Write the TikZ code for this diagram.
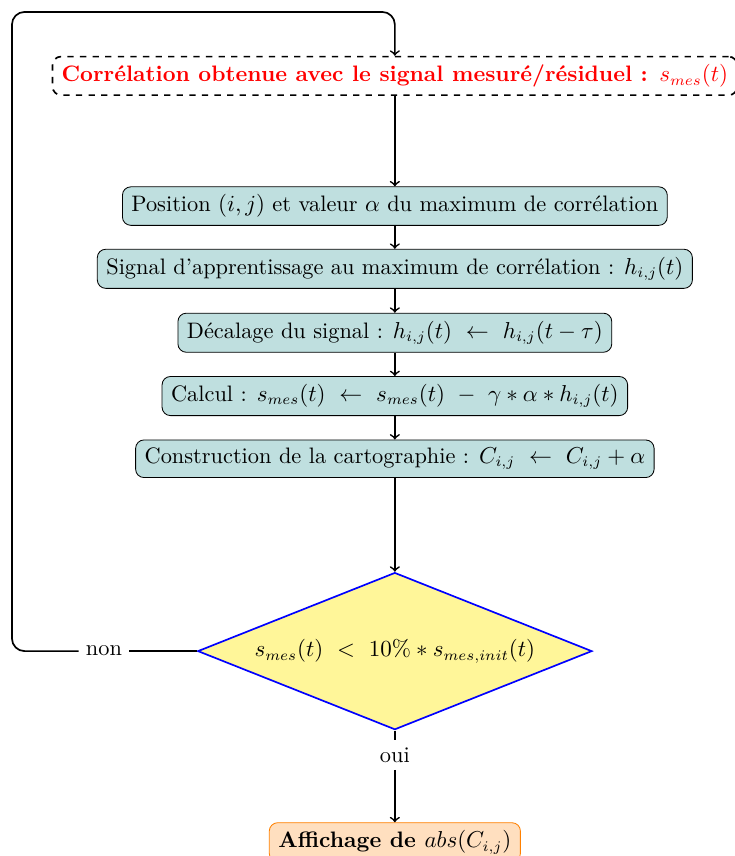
\documentclass[tikz,border=0pt]{standalone}
\usepackage{amsmath}
\usetikzlibrary{shapes.geometric}

\definecolor{fondetape}{RGB}{191,223,223}
\definecolor{fondtest}{RGB}{255,246,153}
\definecolor{fondsortie}{RGB}{255,223,191}

\tikzset{
  every node/.style={font=\fontsize{10.65pt}{12.8pt}\selectfont},
  etape/.style={draw, rectangle, rounded corners=4pt, fill=fondetape, inner xsep=4.3pt, inner ysep=3.7pt},
  entree/.style={draw, rectangle, rounded corners=4pt, dashed, thick, text=red, inner xsep=4.3pt, inner ysep=3.7pt, font=\fontsize{10.65pt}{12.8pt}\selectfont\bfseries},
  test/.style={draw=blue, thick, diamond, fill=fondtest, shape aspect=2.5, minimum width=6.6cm, minimum height=2.63cm, inner sep=0pt},
  sortie/.style={draw=orange, rectangle, rounded corners=4pt, fill=fondsortie, inner xsep=4.3pt, inner ysep=3.7pt, font=\fontsize{10.65pt}{12.8pt}\selectfont\bfseries},
  fleche/.style={->, thick}
}

\begin{document}
\begin{tikzpicture}[scale=1]
\useasboundingbox (0,0) rectangle (12.30,-14.33);

\node[entree] (correl) at (6.61,-1.27) {Corrélation obtenue avec le signal mesuré/résiduel : $s_{mes}(t)$};

\node[etape] (pos) at (6.61,-3.45) {Position $(i,j)$ et valeur $\alpha$ du maximum de corrélation};
\node[etape] (sig) at (6.61,-4.50) {Signal d'apprentissage au maximum de corrélation : $h_{i,j}(t)$};
\node[etape] (decal) at (6.61,-5.57) {Décalage du signal : $h_{i,j}(t) \ \leftarrow\ h_{i,j}(t-\tau)$};
\node[etape] (calcul) at (6.61,-6.63) {Calcul : $s_{mes}(t) \ \leftarrow\ s_{mes}(t) \ -\ \gamma*\alpha*h_{i,j}(t)$};
\node[etape] (carto) at (6.61,-7.68) {Construction de la cartographie : $C_{i,j} \ \leftarrow\ C_{i,j}+\alpha$};

\node[test] (crit) at (6.61,-10.90) {$s_{mes}(t) \ <\ 10\% * s_{mes,init}(t)$};

\node (non) at (1.74,-10.90) {non};
\node (oui) at (6.61,-12.64) {oui};

\node[sortie] (affich) at (6.61,-14.10) {Affichage de $abs(C_{i,j})$};

\coordinate (bas) at (0.20,-10.90);
\coordinate (haut) at (0.20,-0.20);

\draw[fleche] (correl) -- (pos);
\draw[fleche] (pos) -- (sig);
\draw[fleche] (sig) -- (decal);
\draw[fleche] (decal) -- (calcul);
\draw[fleche] (calcul) -- (carto);
\draw[fleche] (carto) -- (crit);

\draw[thick] (crit) -- (non);
\draw[fleche, rounded corners=6pt] (non) -- (bas) -- (haut) -- (haut -| correl) -- (correl);

\draw[thick] (crit) -- (oui);
\draw[fleche] (oui) -- (affich);
\end{tikzpicture}
\end{document}
